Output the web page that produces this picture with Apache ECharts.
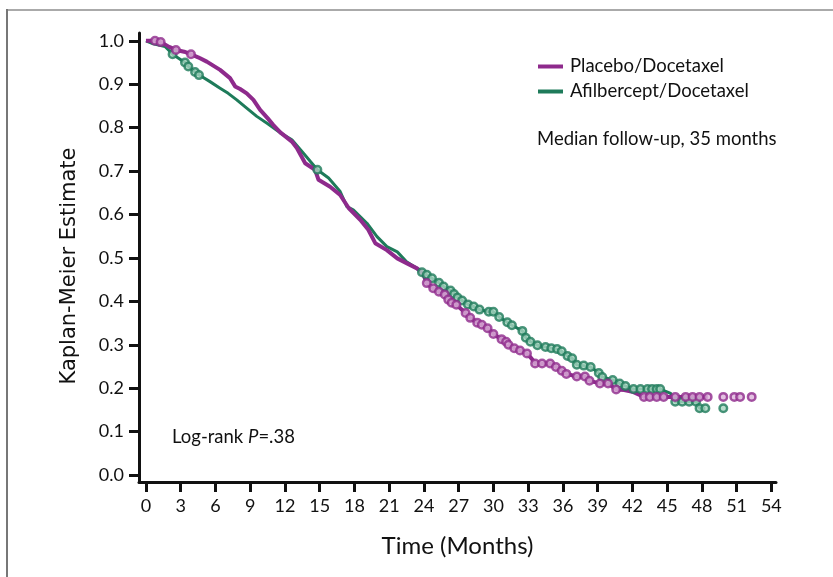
<!DOCTYPE html>
<html>
<head>
<meta charset="utf-8">
<script src="https://cdn.jsdelivr.net/npm/echarts@6/dist/echarts.min.js"></script>
<style>
html,body{margin:0;padding:0;background:#fff;}
#chart{width:833px;height:577px;}
</style>
</head>
<body>
<div id="chart"></div>
<script>
// ---- Data ----
const monthTicks = [0,3,6,9,12,15,18,21,24,27,30,33,36,39,42,45,48,51,54];
const estimateTicks = [0,0.1,0.2,0.3,0.4,0.5,0.6,0.7,0.8,0.9,1.0];
const seriesNames = ['Placebo/Docetaxel','Afilbercept/Docetaxel'];

const placeboTime = [0,0.8,1.3,2.0,2.6,3.3,3.9,4.5,5.25,6.4,7.26,7.7,8.13,8.7,9.28,9.86,10.5,11.0,11.6,12.6,13.03,13.75,14.6,14.9,15.9,16.77,17.5,18.5,19.2,19.8,20.8,21.7,22.5,23.4,23.9,24.25,24.8,25.3,25.8,26.1,26.4,26.8,27.6,28.0,28.6,29.0,29.5,30.0,30.5,31.0,31.3,31.8,32.3,32.9,33.3,33.6,34.2,34.9,35.4,35.9,36.3,37.2,37.9,38.3,39.2,39.9,40.6,41.3,42.1,43.0,48.5];
const placeboSurv = [1.0,1.0,0.997,0.986,0.979,0.975,0.969,0.962,0.952,0.933,0.914,0.895,0.889,0.879,0.864,0.841,0.822,0.806,0.789,0.768,0.753,0.718,0.703,0.680,0.664,0.645,0.615,0.588,0.565,0.534,0.518,0.499,0.488,0.476,0.465,0.442,0.430,0.422,0.416,0.404,0.397,0.392,0.373,0.362,0.351,0.346,0.338,0.325,0.316,0.309,0.300,0.292,0.287,0.280,0.268,0.257,0.257,0.257,0.249,0.240,0.233,0.227,0.227,0.217,0.211,0.211,0.197,0.196,0.191,0.180,0.180];
const placeboCensorTime = [0.78,1.27,2.59,3.89,24.25,24.8,25.3,25.8,26.1,26.4,26.8,27.6,28.0,28.6,29.0,29.5,30.0,30.7,31.1,31.3,31.8,32.3,32.9,33.6,34.2,34.9,35.4,35.9,36.3,37.2,37.9,38.3,39.2,39.9,40.6,43.0,43.5,44.1,44.7,45.7,46.6,47.2,47.8,48.5,49.85,50.8,51.3,52.3];
const placeboCensorSurv = [1.0,0.997,0.979,0.969,0.442,0.430,0.422,0.416,0.404,0.397,0.392,0.373,0.362,0.351,0.346,0.338,0.325,0.313,0.307,0.300,0.292,0.287,0.280,0.257,0.257,0.257,0.249,0.240,0.233,0.227,0.227,0.217,0.211,0.211,0.197,0.180,0.180,0.180,0.180,0.180,0.180,0.180,0.180,0.180,0.180,0.180,0.180,0.180];

const afliTime = [0,0.63,1.64,2.36,3.37,3.66,4.24,4.67,5.53,6.4,7.1,7.84,8.7,9.57,10.58,11.6,12.6,13.6,14.8,15.77,16.77,17.35,17.9,19.08,19.95,20.8,21.7,22.5,23.3,23.83,24.25,24.7,25.3,25.7,26.3,26.6,26.9,27.3,27.8,28.3,28.8,29.6,30.0,30.5,31.2,31.6,32.5,32.8,33.2,33.8,34.5,35.0,35.5,35.9,36.4,36.8,37.2,37.8,38.4,39.1,39.4,40.3,40.9,41.4,42.1,44.4,45.3,45.7,47.5,47.8,48.3];
const afliSurv = [1.0,0.993,0.987,0.968,0.950,0.941,0.928,0.920,0.906,0.891,0.879,0.864,0.845,0.826,0.808,0.788,0.772,0.741,0.703,0.684,0.653,0.618,0.611,0.580,0.549,0.526,0.514,0.491,0.478,0.467,0.461,0.453,0.443,0.434,0.425,0.417,0.409,0.402,0.393,0.388,0.381,0.376,0.376,0.364,0.352,0.345,0.332,0.316,0.307,0.299,0.295,0.292,0.290,0.285,0.274,0.269,0.254,0.252,0.249,0.235,0.226,0.219,0.211,0.205,0.198,0.198,0.188,0.169,0.169,0.154,0.154];
const afliCensorTime = [2.3,3.37,3.66,4.24,4.58,14.8,23.83,24.25,24.7,25.3,25.7,26.3,26.6,26.9,27.3,27.8,28.3,28.8,29.6,30.0,30.5,31.2,31.6,32.5,32.8,33.2,33.8,34.5,35.0,35.5,35.9,36.4,36.8,37.2,37.8,38.4,39.1,39.4,40.3,40.9,41.4,42.1,42.7,43.3,43.7,44.1,44.4,45.7,46.3,46.9,47.5,47.8,48.3,49.85];
const afliCensorSurv = [0.969,0.950,0.941,0.928,0.921,0.703,0.467,0.461,0.453,0.443,0.434,0.425,0.417,0.409,0.402,0.393,0.388,0.381,0.376,0.376,0.364,0.352,0.345,0.332,0.316,0.307,0.299,0.295,0.292,0.290,0.285,0.274,0.269,0.254,0.252,0.249,0.235,0.226,0.219,0.211,0.205,0.198,0.198,0.198,0.198,0.198,0.198,0.169,0.169,0.169,0.169,0.154,0.154,0.154];

// ---- Styles ----
const PURPLE = '#8E2A8C';
const GREEN = '#1E7B5A';
const FONT = 'Lato';
const TXT = '#111';

const zip = (a, b) => a.map((v, i) => [v, b[i]]);

const chart = echarts.init(document.getElementById('chart'), null, {renderer: 'canvas'});
chart.setOption({
  animation: false,
  backgroundColor: '#ffffff',
  grid: {left: 139, top: 33, width: 637, height: 449, containLabel: false},
  xAxis: {
    type: 'value', min: -0.6, max: 54.4,
    splitLine: {show: false},
    axisLine: {show: true, onZero: false, lineStyle: {color: TXT, width: 3}},
    axisTick: {show: true, customValues: monthTicks, length: 10, lineStyle: {color: TXT, width: 3}},
    axisLabel: {show: true, customValues: monthTicks, margin: 15, color: TXT, fontFamily: FONT, fontSize: 18},
    name: 'Time (Months)', nameLocation: 'middle', nameGap: 52,
    nameTextStyle: {color: TXT, fontFamily: FONT, fontSize: 24}
  },
  yAxis: {
    type: 'value', min: -0.016, max: 1.018,
    splitLine: {show: false},
    axisLine: {show: true, onZero: false, lineStyle: {color: TXT, width: 3}},
    axisTick: {show: true, customValues: estimateTicks, length: 10, lineStyle: {color: TXT, width: 3}},
    axisLabel: {show: true, customValues: estimateTicks, margin: 15, color: TXT, fontFamily: FONT, fontSize: 18,
      formatter: v => v.toFixed(1)}
  },
  legend: {
    data: seriesNames, orient: 'vertical', left: 533, top: 51,
    icon: 'rect', itemWidth: 25, itemHeight: 4, itemGap: 4,
    textStyle: {color: TXT, fontFamily: FONT, fontSize: 18.5, lineHeight: 21, padding: [0,0,0,2]}
  },
  graphic: [
    {type: 'line', shape: {x1: 7, y1: 10, x2: 833, y2: 10}, style: {stroke: '#aaaaaa', lineWidth: 2}, silent: true},
    {type: 'line', shape: {x1: 7, y1: 9, x2: 7, y2: 577}, style: {stroke: '#777777', lineWidth: 2}, silent: true},
    {type: 'text', x: 70, y: 266, rotation: Math.PI / 2, silent: true,
      style: {text: 'Kaplan-Meier Estimate', fill: TXT, fontFamily: 'DejaVu Sans', fontSize: 21, align: 'center', verticalAlign: 'middle'}},
    {type: 'text', x: 537, y: 139, silent: true,
      style: {text: 'Median follow-up, 35 months', fill: TXT, fontFamily: FONT, fontSize: 18.5, verticalAlign: 'middle'}},
    {type: 'text', x: 172, y: 437, silent: true, style: {
      text: '{n|Log-rank }{i|P}{n|=.38}', verticalAlign: 'middle',
      rich: {n: {fill: TXT, fontFamily: FONT, fontSize: 18.5}, i: {fill: TXT, fontFamily: FONT, fontSize: 18.5, fontStyle: 'italic'}}
    }}
  ],
  series: [
    {name: seriesNames[1], type: 'line', data: zip(afliTime, afliSurv), showSymbol: false, smooth: false,
      lineStyle: {color: GREEN, width: 3, join: 'round'}, itemStyle: {color: GREEN}, z: 2},
    {name: seriesNames[0], type: 'line', data: zip(placeboTime, placeboSurv), showSymbol: false, smooth: false,
      lineStyle: {color: PURPLE, width: 4, join: 'round'}, itemStyle: {color: PURPLE}, z: 3},
    {name: 'afli-censor', type: 'scatter', data: zip(afliCensorTime, afliCensorSurv), symbol: 'circle', symbolSize: 7.5,
      itemStyle: {color: '#a9d6c2', borderColor: GREEN, borderWidth: 2.5}, z: 4},
    {name: 'placebo-censor', type: 'scatter', data: zip(placeboCensorTime, placeboCensorSurv), symbol: 'circle', symbolSize: 7.5,
      itemStyle: {color: '#dcb3d9', borderColor: PURPLE, borderWidth: 2.5}, z: 5}
  ]
});
</script>
</body>
</html>
